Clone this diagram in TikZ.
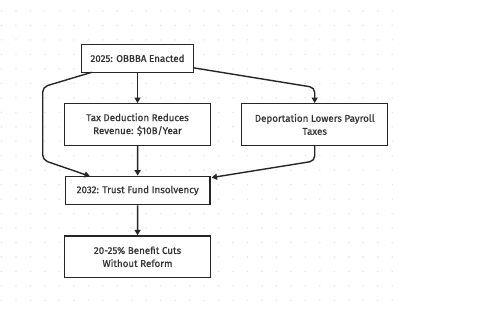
\documentclass[tikz,border=0pt]{standalone}
\usepackage{fontspec}
\setmainfont{Fira Sans}
\newfontfamily\boxfont{Fira Sans}[BoldFont={Fira Sans},BoldFeatures={FakeBold=0.7}]
\usetikzlibrary{arrows.meta}
\definecolor{ink}{HTML}{262626}
\definecolor{txt}{HTML}{333333}
\definecolor{dotc}{HTML}{E2E4E8}
\begin{document}
\begin{tikzpicture}[x=1pt,y=-1pt,
  box/.style={draw=ink,line width=1.3pt,fill=white,align=center,inner sep=0pt,
    font=\boxfont\fontsize{9.8}{13}\selectfont\bfseries,text=txt},
  arr/.style={draw=ink,line width=1.4pt,-{Triangle[length=5.5pt,width=6pt]},rounded corners=5pt}]
\useasboundingbox (0,0) rectangle (504,312);
\fill[white] (0,0) rectangle (504,312);
\foreach \i in {0,...,27}{
  \foreach \j in {0,...,20}{
    \fill[dotc] ({1.5+14.47*\i},{11+14.47*\j}) circle (0.8pt);
  }
}
\node[box,minimum width=111.6pt,minimum height=28pt] (a) at (137.5,58.3) {2025: OBBBA Enacted};
\node[box,minimum width=146.4pt,minimum height=41.6pt] (b) at (137.5,124.5) {Tax Deduction Reduces\\Revenue: \$10B/Year};
\node[box,minimum width=146pt,minimum height=41.6pt] (c) at (314.7,124.5) {Deportation Lowers Payroll\\Taxes};
\node[box,minimum width=144.7pt,minimum height=28.4pt] (d) at (137.7,190.5) {2032: Trust Fund Insolvency};
\node[box,minimum width=146.4pt,minimum height=41.7pt] (e) at (137.5,256.8) {20-25\% Benefit Cuts\\Without Reform};
\coordinate (al) at (91.7,72.3);
\coordinate (dl) at (90,176.3);
\coordinate (ar) at (193.3,67.8);
\coordinate (dr) at (211.5,177.6);
\draw[arr] (a) -- (b);
\draw[arr] (b) -- (d);
\draw[arr] (d) -- (e);
\draw[arr] (al) -- (42.7,87) -- (42.7,160) -- (dl);
\draw[arr] (ar) -- (314.7,87.5) -- (c.north);
\draw[arr] (c.south) -- (314.7,161) -- (dr);
\end{tikzpicture}
\end{document}
